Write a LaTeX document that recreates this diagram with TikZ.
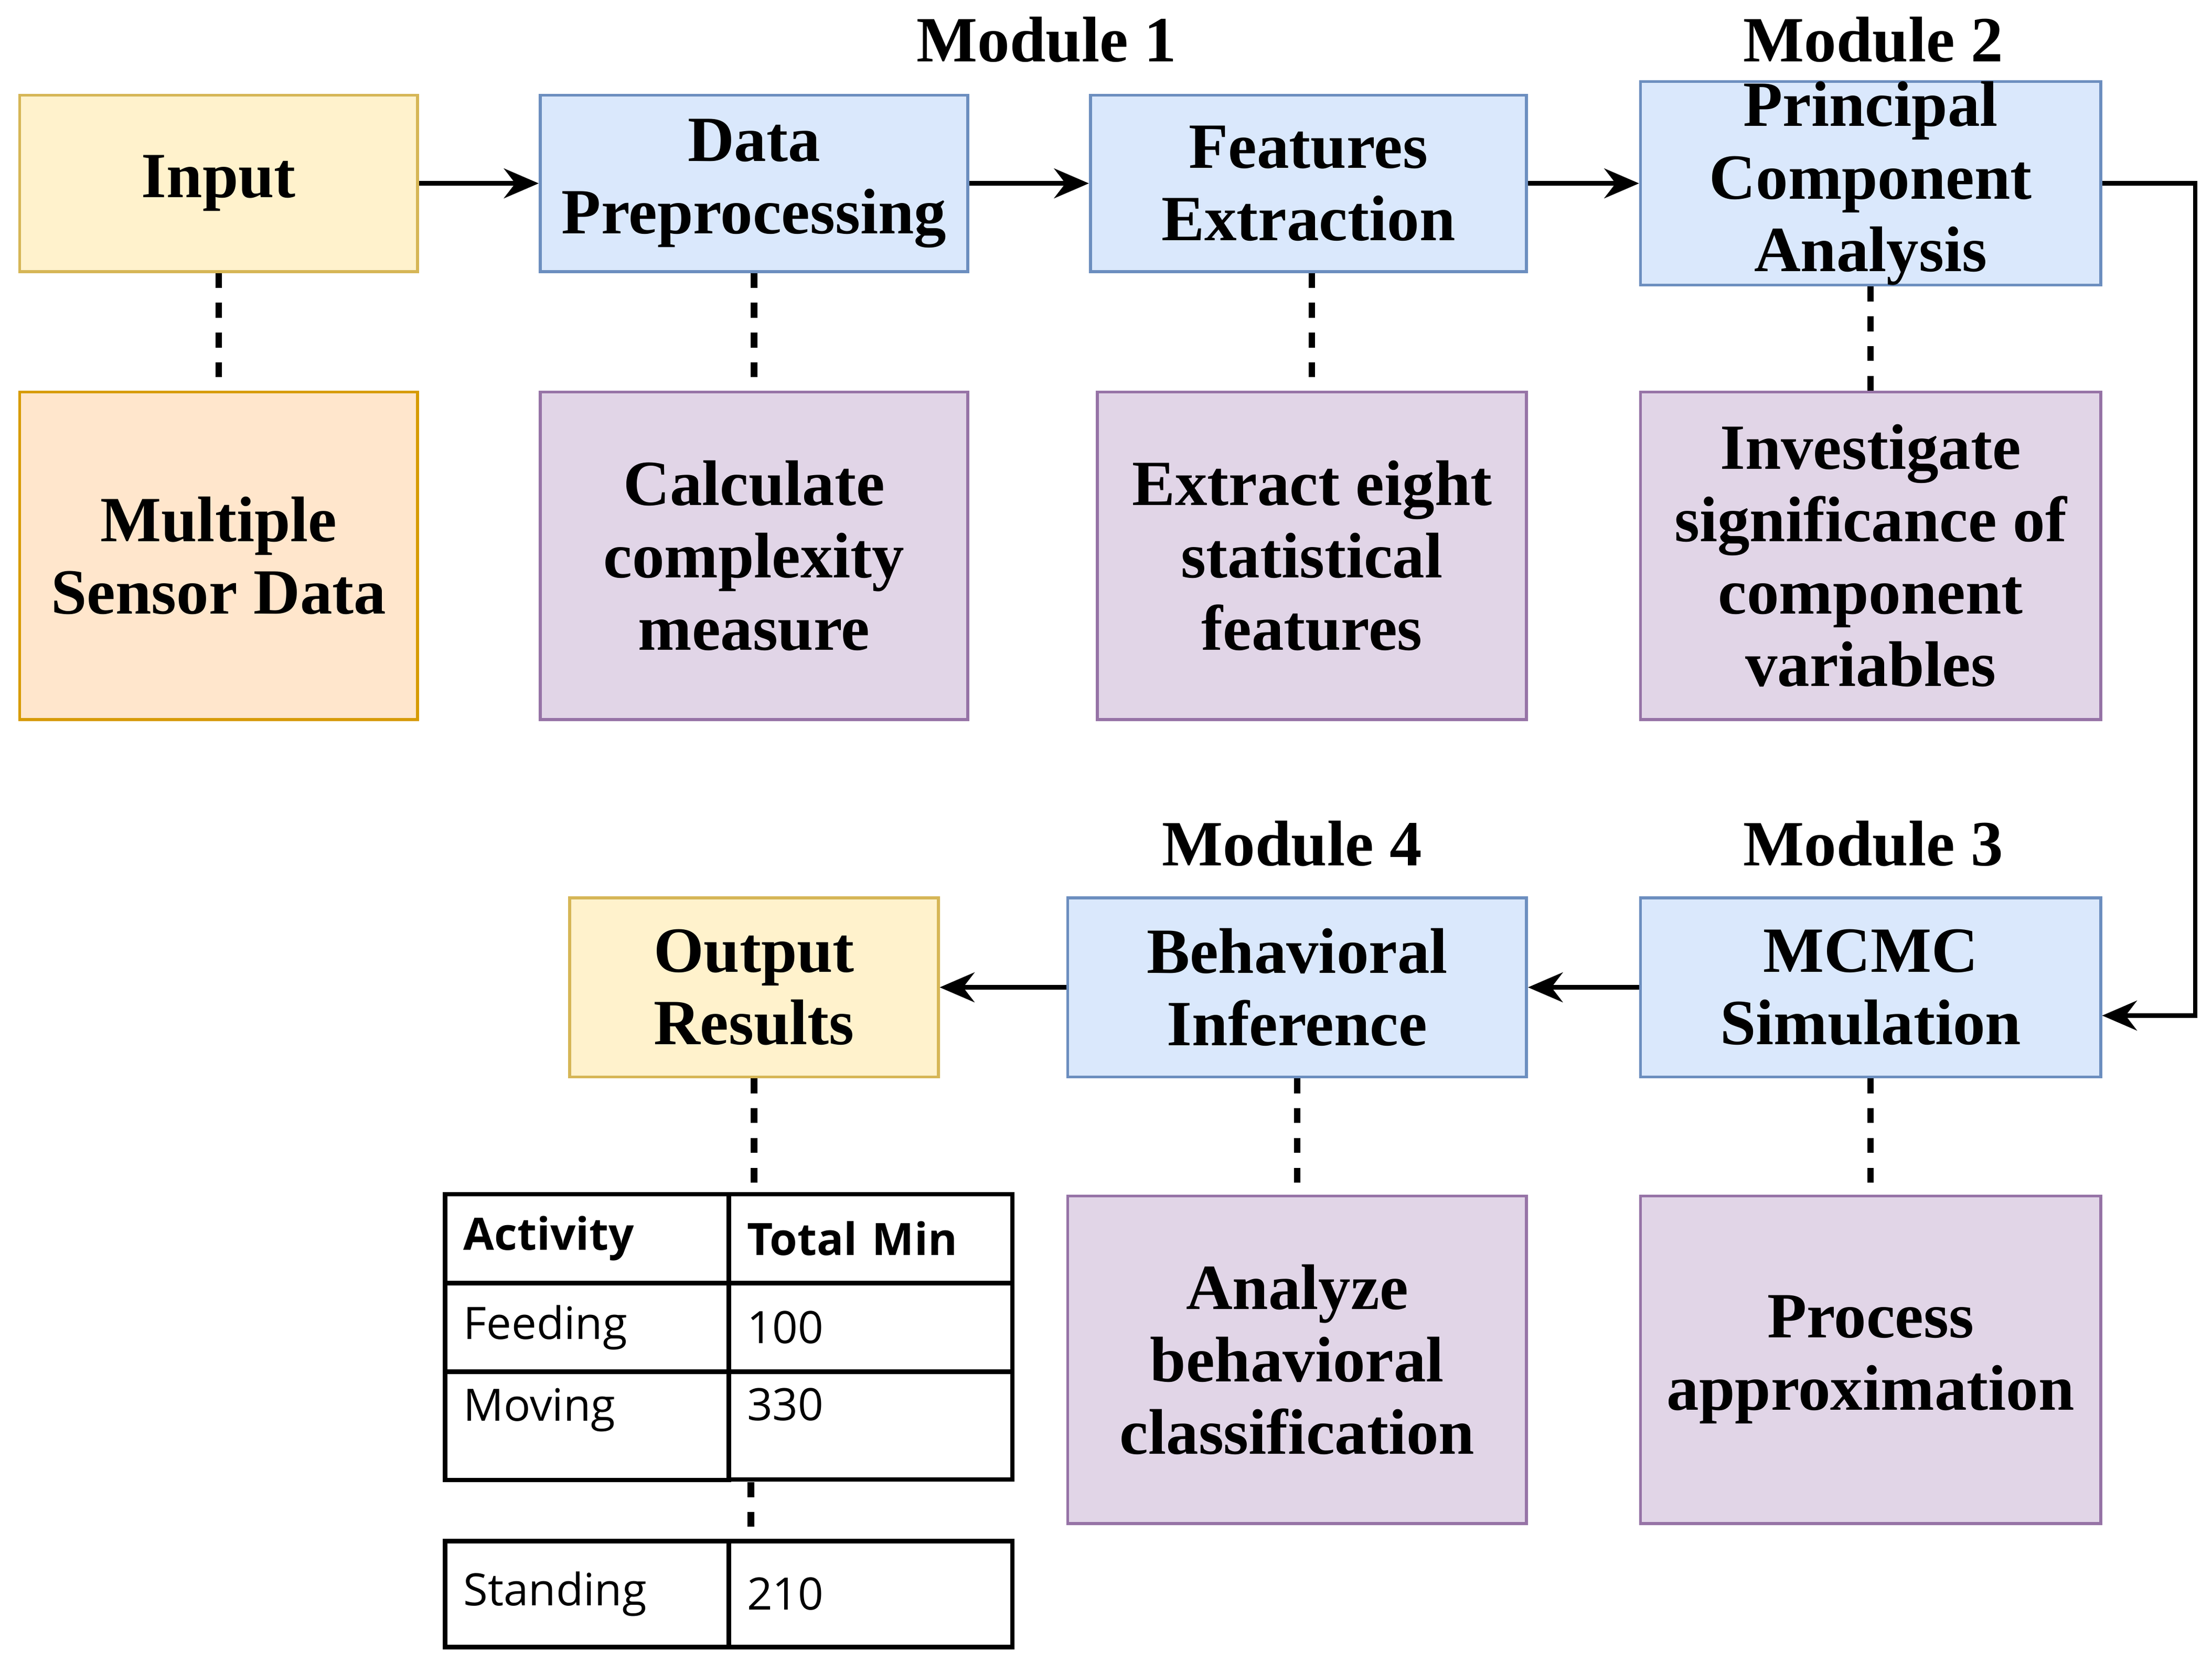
\documentclass[tikz,border=0pt]{standalone}
\usepackage{fontspec}
\setmainfont{Liberation Serif}
\newfontfamily\tabfont{Open Sans}
\usetikzlibrary{arrows.meta}
\definecolor{yelfill}{HTML}{FFF2CC}\definecolor{yeldraw}{HTML}{D6B656}
\definecolor{blufill}{HTML}{DAE8FC}\definecolor{bludraw}{HTML}{6C8EBF}
\definecolor{purfill}{HTML}{E1D5E7}\definecolor{purdraw}{HTML}{9673A6}
\definecolor{orafill}{HTML}{FFE6CC}\definecolor{oradraw}{HTML}{D79B00}
\tikzset{
  box/.style={draw,line width=0.6pt,align=center,inner sep=0pt,
    font=\fontsize{13}{14.6}\selectfont\bfseries},
  inbox/.style={box,fill=yelfill,draw=yeldraw},
  modbox/.style={box,fill=blufill,draw=bludraw},
  taskbox/.style={box,fill=purfill,draw=purdraw},
  srcbox/.style={box,fill=orafill,draw=oradraw},
  link/.style={-{Stealth[length=7pt,width=6pt]},line width=0.9pt},
  dashlink/.style={line width=1.3pt,dash pattern=on 3pt off 3pt},
  cell/.style={draw,line width=0.9pt,minimum width=2.01cm,anchor=north west,
    text width=1.75cm,align=left,font=\tabfont\fontsize{9}{10}\selectfont},
  modlabel/.style={font=\fontsize{13}{14}\selectfont\bfseries}
}
\begin{document}
\begin{tikzpicture}[x=0.01cm,y=-0.01cm]
    \useasboundingbox (0,0) rectangle (1568,1178);
    % top row
    \draw (155,130) node[inbox,minimum width=2.82cm,minimum height=1.25cm] (inp) {Input};
    \draw (534.5,130) node[modbox,minimum width=3.03cm,minimum height=1.25cm] (pre) {Data\\Preprocessing};
    \draw (927.5,130) node[modbox,minimum width=3.09cm,minimum height=1.25cm] (fex) {Features\\Extraction};
    \draw (1326,130) node[modbox,minimum width=3.26cm,minimum height=1.25cm] (pca) {Principal\\Component\\Analysis};
    \draw (742,28) node[modlabel] (m1) {Module 1};
    \draw (1328,28) node[modlabel] (m2) {Module 2};
    % second row
    \draw (155,394) node[srcbox,minimum width=2.82cm,minimum height=2.32cm] (msd) {Multiple\\Sensor Data};
    \draw (534.5,394) node[taskbox,minimum width=3.03cm,minimum height=2.32cm] (cal) {Calculate\\complexity\\measure};
    \draw (930,394) node[taskbox,minimum width=3.04cm,minimum height=2.32cm] (ext) {Extract eight\\statistical\\features};
    \draw (1326,394) node[taskbox,minimum width=3.26cm,minimum height=2.32cm] (inv) {Investigate\\significance of\\component\\variables};
    % lower rows
    \draw (534.5,700) node[inbox,minimum width=2.61cm,minimum height=1.27cm] (out) {Output\\Results};
    \draw (919.5,700) node[modbox,minimum width=3.25cm,minimum height=1.27cm] (beh) {Behavioral\\Inference};
    \draw (1326,700) node[modbox,minimum width=3.26cm,minimum height=1.27cm] (mcmc) {MCMC\\Simulation};
    \draw (916,598) node[modlabel] (m4) {Module 4};
    \draw (1328,598) node[modlabel] (m3) {Module 3};
    \draw (919.5,964) node[taskbox,minimum width=3.25cm,minimum height=2.32cm] (ana) {Analyze\\behavioral\\classification};
    \draw (1326,964) node[taskbox,minimum width=3.26cm,minimum height=2.32cm] (pro) {Process\\approximation};
    % table
    \node[cell,minimum height=0.63cm,font=\tabfont\bfseries\fontsize{9}{10}\selectfont] (t11) at (314,845) {Activity};
    \node[cell,minimum height=0.63cm,font=\tabfont\bfseries\fontsize{9}{10}\selectfont] (t12) at (515,845) {Total Min};
    \node[cell,minimum height=0.63cm] (t21) at (314,908) {Feeding};
    \node[cell,minimum height=0.63cm] (t22) at (515,908) {100};
    \node[cell,minimum height=0.75cm,text depth=0.3cm] (t31) at (314,971) {Moving};
    \node[cell,minimum height=0.75cm,text depth=0.3cm] (t32) at (515,971) {330};
    \node[cell,minimum height=0.75cm] (t41) at (314,1091) {Standing};
    \node[cell,minimum height=0.75cm] (t42) at (515,1091) {210};
    % connectors
    \draw[link] (inp) -- (pre);
    \draw[link] (pre) -- (fex);
    \draw[link] (fex) -- (pca);
    \draw[link] (pca.east) -- ++(66,0) |- ([yshift=-0.2cm]mcmc.east);
    \draw[link] (mcmc) -- (beh);
    \draw[link] (beh) -- (out);
    \draw[dashlink] (inp) -- (msd);
    \draw[dashlink] (pre) -- (cal);
    \draw[dashlink] (fex.south -| ext) -- (ext);
    \draw[dashlink] (pca) -- (inv);
    \draw[dashlink] (mcmc) -- (pro);
    \draw[dashlink] (beh) -- (ana);
    \draw[dashlink] (out.south) -- (out.south |- t11.north);
    \draw[dashlink] ([xshift=0.14cm]t31.south east) -- ([xshift=0.14cm]t41.north east);
\end{tikzpicture}
\end{document}
